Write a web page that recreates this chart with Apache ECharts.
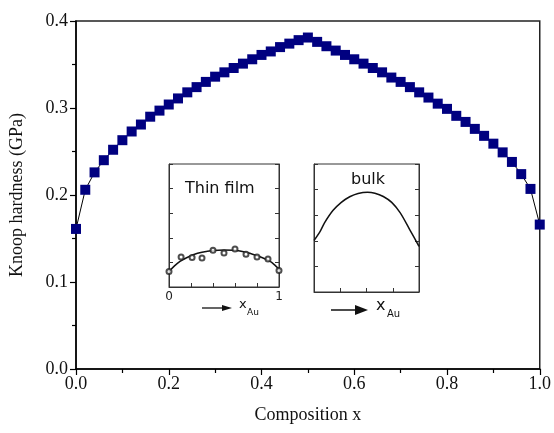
<!DOCTYPE html>
<html>
<head>
<meta charset="utf-8">
<script src="https://cdn.jsdelivr.net/npm/echarts@6/dist/echarts.min.js"></script>
<style>
html, body { margin: 0; padding: 0; background: #fff; }
#chart { width: 554px; height: 433px; }
</style>
</head>
<body>
<div id="chart"></div>
<script>
// main series: Knoop hardness vs composition
var compX = [0, 0.02, 0.04, 0.06, 0.08, 0.10, 0.12, 0.14, 0.16, 0.18, 0.20, 0.22, 0.24,
    0.26, 0.28, 0.30, 0.32, 0.34, 0.36, 0.38, 0.40, 0.42, 0.44, 0.46, 0.48, 0.50,
    0.52, 0.54, 0.56, 0.58, 0.60, 0.62, 0.64, 0.66, 0.68, 0.70, 0.72, 0.74,
    0.76, 0.78, 0.80, 0.82, 0.84, 0.86, 0.88, 0.90, 0.92, 0.94, 0.96, 0.98, 1.00];
var hardness = [0.161, 0.206, 0.226, 0.240, 0.252, 0.263, 0.273, 0.281, 0.290, 0.297, 0.304, 0.311, 0.318,
    0.324, 0.330, 0.336, 0.341, 0.346, 0.351, 0.356, 0.361, 0.365, 0.370, 0.374, 0.378, 0.381,
    0.376, 0.371, 0.366, 0.361, 0.356, 0.351, 0.346, 0.341, 0.335, 0.330, 0.324, 0.318,
    0.312, 0.305, 0.299, 0.291, 0.284, 0.276, 0.268, 0.259, 0.249, 0.238, 0.224, 0.207, 0.166];

// inset "Thin film"
var filmFitX = [0, 0.05, 0.1, 0.16, 0.22, 0.3, 0.4, 0.5, 0.6, 0.7, 0.8, 0.86, 0.92, 0.96, 1.0];
var filmFitY = [0.63, 0.86, 1.04, 1.19, 1.31, 1.41, 1.48, 1.50, 1.49, 1.41, 1.27, 1.17, 1.04, 0.90, 0.73];
var filmPtX = [0, 0.11, 0.21, 0.30, 0.40, 0.50, 0.60, 0.70, 0.80, 0.90, 1.0];
var filmPtY = [0.63, 1.22, 1.20, 1.18, 1.49, 1.38, 1.54, 1.33, 1.22, 1.14, 0.67];

// inset "bulk"
var bulkX = [0, 0.06, 0.1, 0.18, 0.26, 0.34, 0.42, 0.51, 0.58, 0.66, 0.74, 0.82, 0.91, 1.0];
var bulkY = [2.01, 2.38, 2.70, 3.18, 3.50, 3.72, 3.85, 3.90, 3.86, 3.73, 3.50, 3.10, 2.45, 1.78];

function zip(a, b) {
    return a.map(function (v, i) { return [v, b[i]]; });
}

var serif = "Liberation Serif";
var sans = "DejaVu Sans";

function insetX(idx, labels) {
    return {
        type: "value", gridIndex: idx, min: 0, max: 1, interval: labels ? 0.2 : 0.25,
        axisLine: { show: true, lineStyle: { color: "#333", width: 1 } },
        axisTick: { show: true, inside: true, length: 4, lineStyle: { color: "#333" } },
        splitLine: { show: false },
        axisLabel: {
            show: labels, margin: 4, fontFamily: sans, fontSize: 12, color: "#222",
            formatter: function (v) { return (v === 0 || v === 1) ? String(v) : ""; }
        }
    };
}
function insetY(idx, pos) {
    return {
        type: "value", gridIndex: idx, min: 0, max: 5, interval: 1, position: pos,
        axisLine: { show: true, lineStyle: { color: "#333", width: 1 } },
        axisTick: { show: true, inside: true, length: 4, lineStyle: { color: "#333" } },
        splitLine: { show: false },
        axisLabel: { show: false }
    };
}

var option = {
    animation: false,
    backgroundColor: "#fff",
    grid: [
        { left: 75, right: 12, top: 21, bottom: 64, show: true, borderColor: "#222", borderWidth: 1.5 },
        { left: 169, top: 164, width: 110, height: 123, show: true, borderColor: "#333", borderWidth: 1 },
        { left: 314, top: 164, width: 105, height: 128, show: true, borderColor: "#333", borderWidth: 1 }
    ],
    xAxis: [
        {
            type: "value", min: 0, max: 1, interval: 0.2,
            name: "Composition x", nameLocation: "middle", nameGap: 37,
            nameTextStyle: { fontFamily: serif, fontSize: 18, color: "#111" },
            axisLine: { lineStyle: { color: "#000", width: 1.5 } },
            axisTick: { length: 6, lineStyle: { color: "#000", width: 1.2 } },
            minorTick: { show: true, splitNumber: 2, length: 4, lineStyle: { color: "#000", width: 1.2 } },
            splitLine: { show: false },
            axisLabel: { fontFamily: serif, fontSize: 18, color: "#111", margin: 6,
                formatter: function (v) { return v.toFixed(1); } }
        },
        insetX(1, true),
        insetX(2, false)
    ],
    yAxis: [
        {
            type: "value", min: 0, max: 0.4, interval: 0.1,
            name: "Knoop hardness (GPa)", nameLocation: "middle", nameGap: 50,
            nameTextStyle: { fontFamily: serif, fontSize: 18, color: "#111" },
            axisLine: { lineStyle: { color: "#000", width: 1.5 } },
            axisTick: { length: 6, lineStyle: { color: "#000", width: 1.2 } },
            minorTick: { show: true, splitNumber: 2, length: 4, lineStyle: { color: "#000", width: 1.2 } },
            splitLine: { show: false },
            axisLabel: { fontFamily: serif, fontSize: 18, color: "#111", margin: 8,
                formatter: function (v) { return v.toFixed(1); } }
        },
        insetY(1, "left"),
        insetY(1, "right"),
        insetY(2, "left"),
        insetY(2, "right")
    ],
    series: [
        {
            type: "line", xAxisIndex: 0, yAxisIndex: 0,
            data: zip(compX, hardness),
            symbol: "rect", symbolSize: 10,
            itemStyle: { color: "#000080" },
            lineStyle: { color: "#000", width: 1 },
            clip: false
        },
        {
            type: "line", xAxisIndex: 1, yAxisIndex: 1,
            data: zip(filmFitX, filmFitY), smooth: 0.3, symbol: "none",
            lineStyle: { color: "#111", width: 1.5 }, z: 6
        },
        {
            type: "scatter", xAxisIndex: 1, yAxisIndex: 1,
            data: zip(filmPtX, filmPtY), symbol: "emptyCircle", symbolSize: 5,
            itemStyle: { color: "#222", borderColor: "#222", borderWidth: 1 }, z: 7
        },
        {
            type: "line", xAxisIndex: 2, yAxisIndex: 3,
            data: zip(bulkX, bulkY), smooth: 0.3, symbol: "none",
            lineStyle: { color: "#111", width: 1.5 }, z: 6
        }
    ],
    graphic: [
        { type: "text", left: 185, top: 181, z: 10, style: { text: "Thin film", font: "16px " + sans, fill: "#111" } },
        { type: "text", left: 351, top: 172, z: 10, style: { text: "bulk", font: "16px " + sans, fill: "#111" } },
        // arrows below the insets
        { type: "line", z: 10, shape: { x1: 202, y1: 308, x2: 224, y2: 308 }, style: { stroke: "#111", lineWidth: 1.3 } },
        { type: "polygon", z: 10, shape: { points: [[222, 305], [232, 308], [222, 311]] }, style: { fill: "#111" } },
        { type: "text", left: 239, top: 298, z: 10, style: { text: "x", font: "13px " + sans, fill: "#111" } },
        { type: "text", left: 247, top: 308, z: 10, style: { text: "Au", font: "9px " + sans, fill: "#111" } },
        { type: "line", z: 10, shape: { x1: 331, y1: 310, x2: 358, y2: 310 }, style: { stroke: "#111", lineWidth: 1.5 } },
        { type: "polygon", z: 10, shape: { points: [[355, 305], [368, 310], [355, 315]] }, style: { fill: "#111" } },
        { type: "text", left: 376, top: 298, z: 10, style: { text: "x", font: "16px " + sans, fill: "#111" } },
        { type: "text", left: 387, top: 309, z: 10, style: { text: "Au", font: "10px " + sans, fill: "#111" } }
    ]
};

echarts.init(document.getElementById("chart")).setOption(option);
</script>
</body>
</html>
